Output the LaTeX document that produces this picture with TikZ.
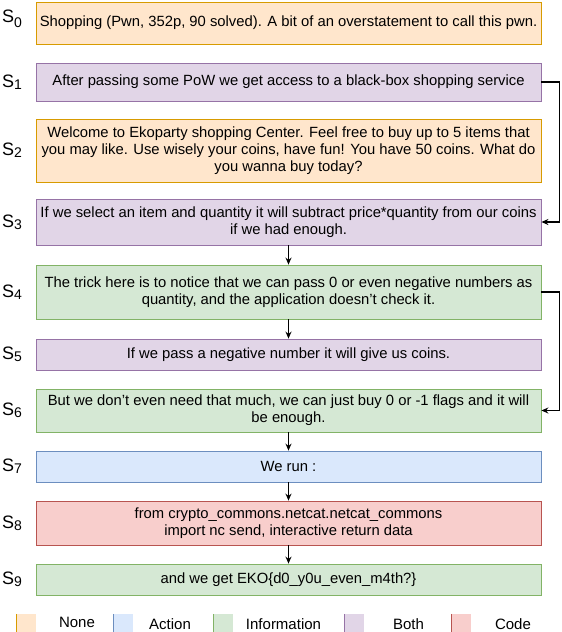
\documentclass[tikz,border=0pt]{standalone}
\usepackage{fontspec}
\setmainfont{Liberation Sans}
\usetikzlibrary{arrows.meta}
\definecolor{nonefill}{HTML}{FFE6CC}\definecolor{nonedraw}{HTML}{D79B00}
\definecolor{actfill}{HTML}{DAE8FC}\definecolor{actdraw}{HTML}{6C8EBF}
\definecolor{infofill}{HTML}{D5E8D4}\definecolor{infodraw}{HTML}{82B366}
\definecolor{bothfill}{HTML}{E1D5E7}\definecolor{bothdraw}{HTML}{9673A6}
\definecolor{codefill}{HTML}{F8CECC}\definecolor{codedraw}{HTML}{B85450}
\tikzset{
  stepbox/.style={minimum width=505pt, align=center, inner sep=0pt, line width=0.8pt,
    font=\fontsize{14.8}{16.8}\selectfont},
  nonebox/.style={stepbox, fill=nonefill, draw=nonedraw},
  actbox/.style={stepbox, fill=actfill, draw=actdraw},
  infobox/.style={stepbox, fill=infofill, draw=infodraw},
  bothbox/.style={stepbox, fill=bothfill, draw=bothdraw},
  codebox/.style={stepbox, fill=codefill, draw=codedraw},
  slabel/.style={font=\fontsize{18}{18}\selectfont, inner sep=0pt},
  legsq/.style={minimum width=19pt, minimum height=19pt, inner sep=0pt},
  legtext/.style={font=\fontsize{15}{15}\selectfont, inner sep=0pt},
  flow/.style={line width=1.2pt, -{Stealth[length=7pt,width=6pt]}}
}
\newcommand{\snum}[1]{S\raisebox{-0.12em}{\fontsize{14}{14}\selectfont #1}}
\newcommand{\apos}{\char"0027\relax}
\begin{document}
\begin{tikzpicture}[x=1pt, y=-1pt]
\useasboundingbox (0,0) rectangle (562,632);
\node[nonebox, minimum height=42pt] (s0) at (288.5,23) {Shopping (Pwn, 352p, 90 solved). A bit of an overstatement to call this pwn.};
\node[bothbox, minimum height=38pt] (s1) at (288.5,82) {After passing some PoW we get access to a black-box shopping service};
\node[nonebox, minimum height=63pt] (s2) at (288.5,150.5) {Welcome to Ekoparty shopping Center. Feel free to buy up to 5 items that\\ you may like. Use wisely your coins, have fun! You have 50 coins. What do\\ you wanna buy today?};
\node[bothbox, minimum height=46pt] (s3) at (288.5,222) {If we select an item and quantity it will subtract price*quantity from our coins\\ if we had enough.};
\node[infobox, minimum height=54pt] (s4) at (288.5,292) {The trick here is to notice that we can pass 0 or even negative numbers as\\ quantity, and the application doesn\apos t check it.};
\node[bothbox, minimum height=31pt] (s5) at (288.5,354.5) {If we pass a negative number it will give us coins.};
\node[infobox, minimum height=43pt] (s6) at (288.5,410.5) {But we don\apos t even need that much, we can just buy 0 or -1 flags and it will\\ be enough.};
\node[actbox, minimum height=31pt] (s7) at (288.5,466.5) {We run :};
\node[codebox, minimum height=44pt] (s8) at (288.5,523) {from crypto\_commons.netcat.netcat\_commons\\ import nc send, interactive return data};
\node[infobox, minimum height=31pt] (s9) at (288.5,579.5) {and we get EKO\{d0\_y0u\_even\_m4th?\}};

\node[slabel] (l0) at (12,19) {S\raisebox{-0.3em}{\fontsize{14}{14}\selectfont 0}};
\node[slabel] (l1) at (12,82) {\snum{1}};
\node[slabel] (l2) at (12,150.5) {\snum{2}};
\node[slabel] (l3) at (12,222) {\snum{3}};
\node[slabel] (l4) at (12,292) {\snum{4}};
\node[slabel] (l5) at (12,354.5) {\snum{5}};
\node[slabel] (l6) at (12,410.5) {\snum{6}};
\node[slabel] (l7) at (12,466.5) {\snum{7}};
\node[slabel] (l8) at (12,523) {\snum{8}};
\node[slabel] (l9) at (12,579.5) {\snum{9}};

\draw[flow] (s3) -- (s4);
\draw[flow] (s4) -- (s5);
\draw[flow] (s6) -- (s7);
\draw[flow] (s7) -- (s8);
\draw[flow] (s8) -- (s9);
\draw[flow] (s1.east) -- ++(18,0) |- (s3.east);
\draw[flow] (s4.east) -- ++(18,0) |- (s6.east);

\node[legsq, fill=nonefill] (kn) at (26.5,623.5) {};
\draw[nonedraw, line width=0.8pt] (kn.north west) -- (kn.south west);
\node[legtext] (tn) at (77,622) {None};
\node[legsq, fill=actfill] (ka) at (123.5,623.5) {};
\draw[actdraw, line width=0.8pt] (ka.north west) -- (ka.south west);
\node[legtext] (ta) at (170,624) {Action};
\node[legsq, fill=infofill] (ki) at (223,623.5) {};
\draw[infodraw, line width=0.8pt] (ki.north west) -- (ki.south west);
\node[legtext] (ti) at (283.5,624) {Information};
\node[legsq, fill=bothfill] (kb) at (354.5,623.5) {};
\draw[bothdraw, line width=0.8pt] (kb.north west) -- (kb.south west);
\node[legtext] (tb) at (408.5,624) {Both};
\node[legsq, fill=codefill] (kc) at (461.5,623.5) {};
\draw[codedraw, line width=0.8pt] (kc.north west) -- (kc.south west);
\node[legtext] (tc) at (513,624) {Code};
\end{tikzpicture}
\end{document}
